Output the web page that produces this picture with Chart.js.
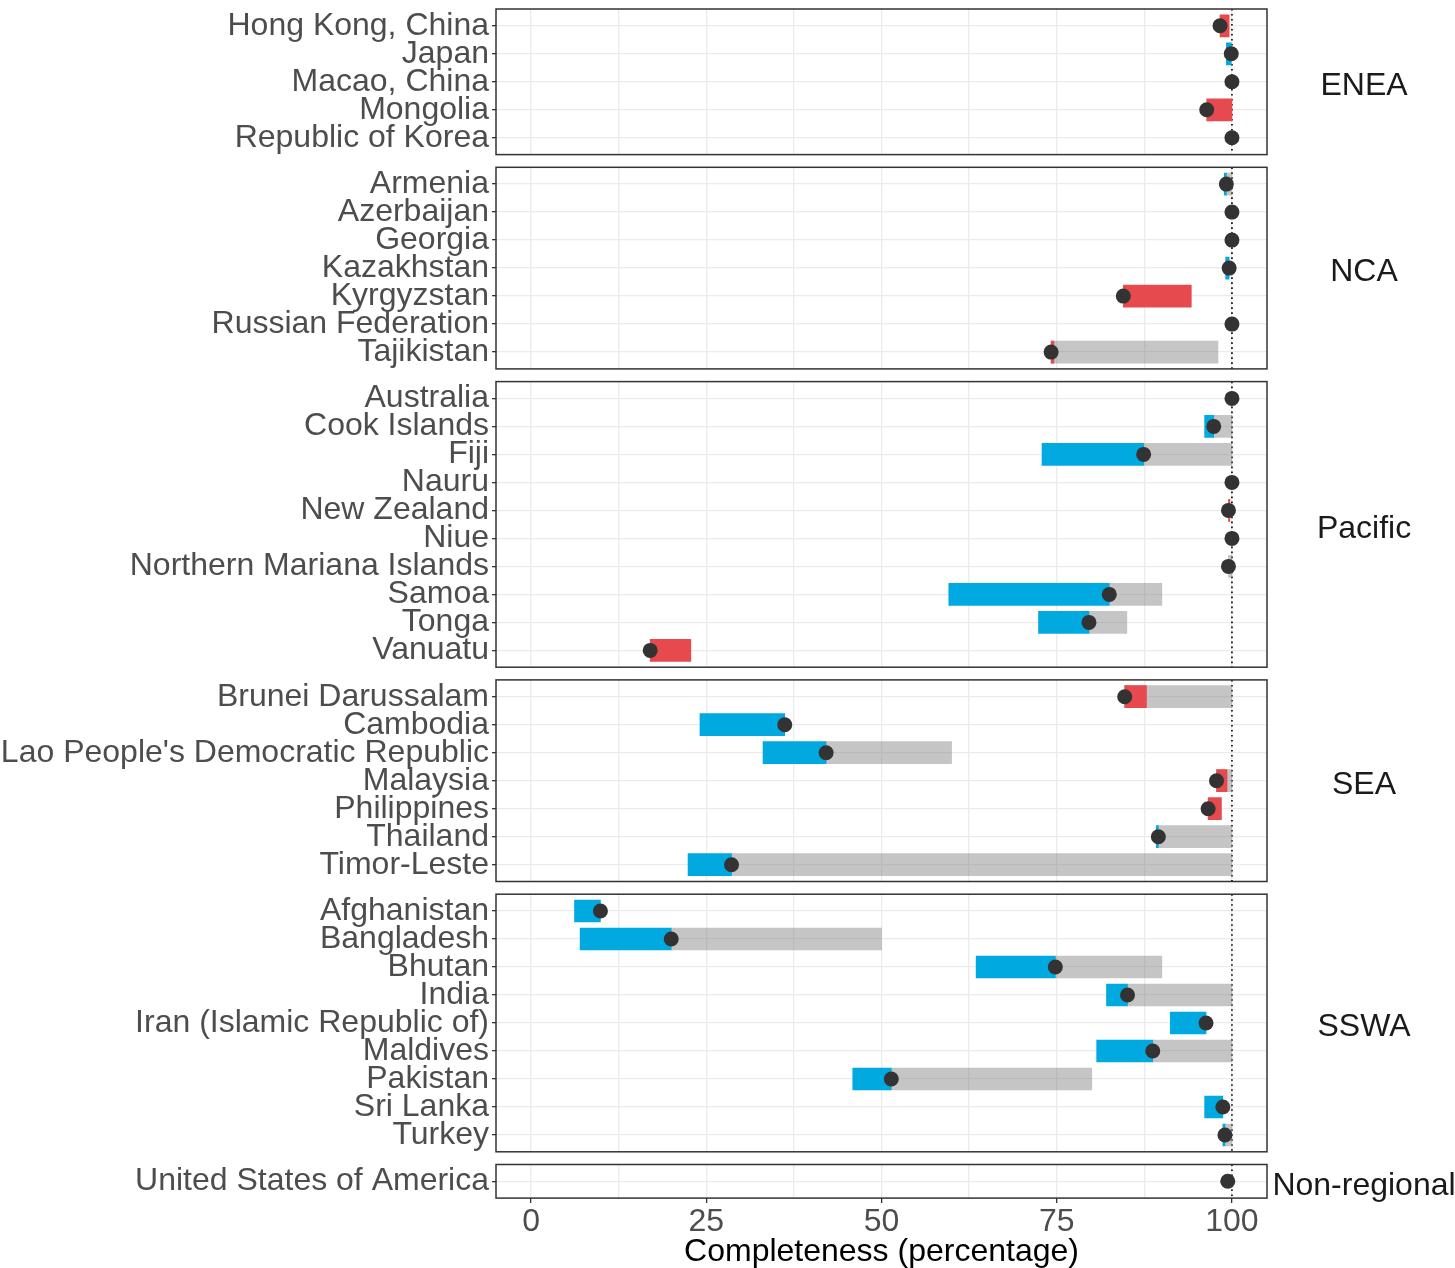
<!DOCTYPE html>
<html>
<head>
<meta charset="utf-8">
<script src="https://cdn.jsdelivr.net/npm/chart.js@4.4.1/dist/chart.umd.min.js"></script>
<style>
  body { margin: 0; background: #fff; }
  #wrap { position: relative; width: 1455px; height: 1268px; }
  #wrap canvas { position: absolute; left: 0; top: 0; }
</style>
</head>
<body>
<div id="wrap"></div>
<script>
// facets, top to bottom
const regions = ['ENEA', 'NCA', 'Pacific', 'SEA', 'SSWA', 'Non-regional'];

const countries = [
  'Hong Kong, China', 'Japan', 'Macao, China', 'Mongolia', 'Republic of Korea',
  'Armenia', 'Azerbaijan', 'Georgia', 'Kazakhstan', 'Kyrgyzstan', 'Russian Federation', 'Tajikistan',
  'Australia', 'Cook Islands', 'Fiji', 'Nauru', 'New Zealand', 'Niue', 'Northern Mariana Islands', 'Samoa', 'Tonga', 'Vanuatu',
  'Brunei Darussalam', 'Cambodia', "Lao People's Democratic Republic", 'Malaysia', 'Philippines', 'Thailand', 'Timor-Leste',
  'Afghanistan', 'Bangladesh', 'Bhutan', 'India', 'Iran (Islamic Republic of)', 'Maldives', 'Pakistan', 'Sri Lanka', 'Turkey',
  'United States of America'
];
const countryRegion = [
  'ENEA', 'ENEA', 'ENEA', 'ENEA', 'ENEA',
  'NCA', 'NCA', 'NCA', 'NCA', 'NCA', 'NCA', 'NCA',
  'Pacific', 'Pacific', 'Pacific', 'Pacific', 'Pacific', 'Pacific', 'Pacific', 'Pacific', 'Pacific', 'Pacific',
  'SEA', 'SEA', 'SEA', 'SEA', 'SEA', 'SEA', 'SEA',
  'SSWA', 'SSWA', 'SSWA', 'SSWA', 'SSWA', 'SSWA', 'SSWA', 'SSWA', 'SSWA',
  'Non-regional'
];
// completeness now (dot)
const current = [
  98.3, 99.9, 100, 96.4, 100,
  99.2, 100, 100, 99.6, 84.5, 100, 74.2,
  100, 97.4, 87.4, 100, 99.5, 100, 99.5, 82.5, 79.6, 17.0,
  84.7, 36.2, 42.1, 97.8, 96.6, 89.5, 28.6,
  9.9, 20.0, 74.8, 85.1, 96.3, 88.7, 51.4, 98.7, 99.0,
  99.4
];
// completeness before (other end of blue / red bar)
const previous = [
  99.6, 99.2, 100, 100, 100,
  98.9, 100, 100, 99.1, 94.2, 100, 74.6,
  100, 96.1, 72.9, 100, 99.7, 100, 99.5, 59.6, 72.4, 22.8,
  87.8, 24.1, 33.1, 99.3, 98.5, 89.2, 22.4,
  6.2, 7.0, 63.5, 82.1, 91.2, 80.7, 45.9, 96.1, 98.7,
  99.4
];
// end of grey bar, null = none
const potential = [
  null, null, null, null, null,
  100, null, null, null, null, null, 98.0,
  null, 100, 100, null, null, null, 100, 90, 85, null,
  100, null, 60, 100, null, 100, 100,
  null, 50, 90, 100, null, 100, 80, null, 100,
  null
];
const majorTicks = [0, 25, 50, 75, 100];
const minorTicks = [12.5, 37.5, 62.5, 87.5];

const W = 1455, H = 1268;
const plotLeft = 496, plotRight = 1267;
const rowH = 28, panelGap = 12.7;
const FONT = '"Liberation Sans", Arial, sans-serif';
Chart.defaults.font.family = FONT;
Chart.defaults.font.size = 32;

const panelDecor = {
  id: 'panelDecor',
  beforeDatasetsDraw(chart) {
    const {ctx, chartArea: a, scales} = chart;
    const x = scales.x.getPixelForValue(100);
    ctx.save();
    ctx.strokeStyle = '#000';
    ctx.lineWidth = 1.6;
    ctx.setLineDash([1.6, 3.4]);
    ctx.beginPath();
    ctx.moveTo(x, a.top);
    ctx.lineTo(x, a.bottom);
    ctx.stroke();
    ctx.restore();
  },
  afterDatasetsDraw(chart) {
    const {ctx, chartArea: a} = chart;
    ctx.save();
    ctx.strokeStyle = '#333333';
    ctx.lineWidth = 1.5;
    ctx.strokeRect(a.left, a.top, a.right - a.left, a.bottom - a.top);
    ctx.restore();
  },
  afterDraw(chart, args, opts) {
    const {ctx, chartArea: a} = chart;
    ctx.save();
    ctx.fillStyle = '#1a1a1a';
    ctx.font = '32px ' + FONT;
    ctx.textAlign = 'center';
    ctx.textBaseline = 'middle';
    ctx.fillText(opts.strip, 1364, (a.top + a.bottom) / 2 + 4.5);
    ctx.restore();
  }
};

const wrap = document.getElementById('wrap');
let yPos = 9;

regions.forEach((reg, p) => {
  const idx = countries.map((c, i) => i).filter(i => countryRegion[i] === reg);
  const labels = idx.map(i => countries[i]);
  const n = labels.length;
  const top = yPos;
  const bottom = yPos + (n + 0.2) * rowH;
  yPos = bottom + panelGap;
  const last = p === regions.length - 1;

  const greyData = [], blueData = [], redData = [], dotData = [];
  idx.forEach((i, r) => {
    if (potential[i] !== null) greyData.push({x: [current[i], potential[i]], y: r});
    if (previous[i] < current[i]) blueData.push({x: [previous[i], current[i]], y: r});
    if (previous[i] > current[i]) redData.push({x: [current[i], previous[i]], y: r});
    dotData.push({x: current[i], y: r});
  });

  const barOpts = {
    type: 'bar', indexAxis: 'y', grouped: false,
    barThickness: 22, maxBarThickness: 22, barPercentage: 22 / 28,
    borderWidth: 0
  };

  const canvas = document.createElement('canvas');
  canvas.width = W;
  canvas.height = H;
  wrap.appendChild(canvas);

  new Chart(canvas, {
    type: 'scatter',
    data: {
      datasets: [
        Object.assign({data: greyData, backgroundColor: 'rgba(128,128,128,0.46)', order: 3}, barOpts),
        Object.assign({data: blueData, backgroundColor: '#00a9e0', order: 2}, barOpts),
        Object.assign({data: redData, backgroundColor: '#e64a4f', order: 2}, barOpts),
        {data: dotData, pointRadius: 7.5, pointHoverRadius: 7.5, backgroundColor: '#333333',
         borderWidth: 0, order: 1}
      ]
    },
    options: {
      responsive: false,
      animation: false,
      devicePixelRatio: 1,
      layout: {padding: {top: top, bottom: last ? 0 : H - bottom, left: 0, right: W - plotRight}},
      plugins: {
        legend: {display: false},
        tooltip: {enabled: false},
        panelDecor: {strip: reg}
      },
      scales: {
        x: {
          type: 'linear', min: -5, max: 105, offset: false,
          afterBuildTicks: s => { s.ticks = minorTicks.concat(majorTicks).sort((a, b) => a - b).map(v => ({value: v})); },
          afterFit: s => { s.height = last ? H - bottom : 0; s.paddingLeft = 0; s.paddingRight = 0; },
          border: {display: false},
          grid: {
            offset: false,
            color: '#ebebeb', lineWidth: 1.3,
            drawTicks: last, tickLength: 5, tickWidth: 1.3,
            tickColor: c => majorTicks.includes(c.tick.value) ? '#333333' : 'rgba(0,0,0,0)'
          },
          ticks: {
            display: last, autoSkip: false, maxRotation: 0, padding: 0, color: '#4d4d4d',
            callback: v => majorTicks.includes(v) ? String(v) : ''
          },
          title: {
            display: last, text: 'Completeness (percentage)', color: '#000',
            font: {size: 32, lineHeight: 1}, padding: 0
          }
        },
        y: {
          type: 'linear', reverse: true, min: -0.6, max: n - 0.4, offset: false,
          afterBuildTicks: s => { s.ticks = labels.map((l, i) => ({value: i})); },
          afterFit: s => { s.width = plotLeft; s.paddingTop = 0; s.paddingBottom = 0; },
          border: {display: false},
          grid: {offset: false, color: '#ebebeb', lineWidth: 1.3, tickLength: 4, tickWidth: 1.3, tickColor: '#333333'},
          ticks: {autoSkip: false, padding: 3, color: '#4d4d4d', callback: v => labels[v]}
        }
      }
    },
    plugins: [panelDecor]
  });
});
</script>
</body>
</html>
